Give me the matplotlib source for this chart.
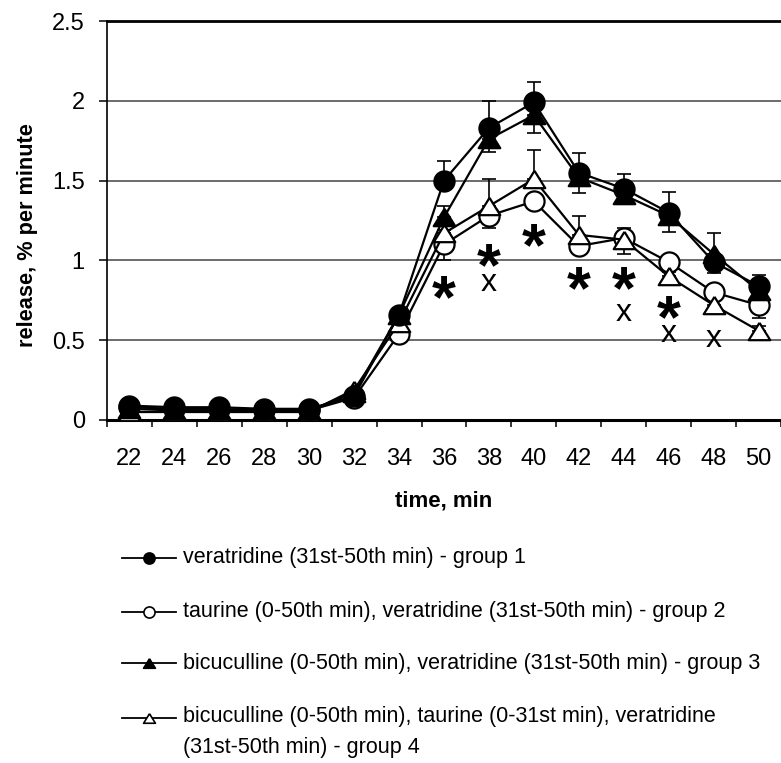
import matplotlib
matplotlib.use('Agg')
import matplotlib.pyplot as plt
from matplotlib.lines import Line2D
import numpy as np

plt.rcParams['font.family'] = ['Liberation Sans', 'DejaVu Sans']

times = [22, 24, 26, 28, 30, 32, 34, 36, 38, 40, 42, 44, 46, 48, 50]

# mean release, % per minute
group1 = [0.09, 0.08, 0.08, 0.07, 0.07, 0.15, 0.66, 1.50, 1.83, 1.99, 1.55, 1.45, 1.30, 0.99, 0.84]
group2 = [0.08, 0.07, 0.07, 0.06, 0.06, 0.14, 0.54, 1.10, 1.28, 1.37, 1.09, 1.14, 0.99, 0.80, 0.72]
group3 = [0.07, 0.06, 0.06, 0.06, 0.06, 0.17, 0.66, 1.27, 1.76, 1.91, 1.52, 1.41, 1.28, 1.04, 0.81]
group4 = [0.05, 0.05, 0.05, 0.05, 0.05, 0.19, 0.61, 1.17, 1.34, 1.51, 1.16, 1.13, 0.90, 0.72, 0.56]

# s.e.m. (group 1 and 4 drawn upward, group 2 and 3 downward)
err1 = [0, 0, 0, 0, 0, 0, 0.03, 0.12, 0.17, 0.13, 0.12, 0.09, 0.13, 0.18, 0.07]
err2 = [0, 0, 0, 0, 0, 0, 0.02, 0.10, 0.08, 0.04, 0.04, 0.10, 0.03, 0.03, 0.08]
err3 = [0, 0, 0, 0, 0, 0, 0.02, 0.08, 0.08, 0.11, 0.10, 0.05, 0.10, 0.12, 0.04]
err4 = [0, 0, 0, 0, 0, 0, 0.02, 0.17, 0.17, 0.18, 0.12, 0.07, 0.03, 0.03, 0.03]

labels = ['veratridine (31st-50th min) - group 1',
          'taurine (0-50th min), veratridine (31st-50th min) - group 2',
          'bicuculline (0-50th min), veratridine (31st-50th min) - group 3',
          'bicuculline (0-50th min), taurine (0-31st min), veratridine\n(31st-50th min) - group 4']

# significance marks: * and x
star_t = [36, 38, 40, 42, 44, 46]
star_y = [0.82, 1.02, 1.15, 0.88, 0.88, 0.70]
cross_t = [38, 44, 46, 48]
cross_y = [0.86, 0.67, 0.54, 0.51]

tri = [(0, 0.5), (-0.62, -0.5), (0.62, -0.5), (0, 0.5)]

W, H = 781, 763
fig = plt.figure(figsize=(W / 100, H / 100), dpi=100)
ax = fig.add_axes([107 / W, 1 - 420 / H, 674 / W, 399 / H])

x = np.arange(len(times))
styles = [
    (group2, err2, 'o', 'white', 'down'),
    (group4, err4, tri, 'white', 'up'),
    (group3, err3, tri, 'black', 'down'),
    (group1, err1, 'o', 'black', 'up'),
]
for vals, err, mk, fc, side in styles:
    vals = np.array(vals)
    err = np.array(err)
    yerr = [err, np.zeros_like(err)] if side == 'down' else [np.zeros_like(err), err]
    ax.errorbar(x, vals, yerr=yerr, fmt='none', ecolor='black', elinewidth=1.2,
                capsize=5, capthick=1.2, zorder=2)
    ax.plot(x, vals, color='black', lw=1.6, marker=mk,
            markersize=15.5 if mk is tri else 14.5,
            markerfacecolor=fc, markeredgecolor='black', markeredgewidth=1.6, zorder=3)

for t, v in zip(star_t, star_y):
    ax.annotate('*', (times.index(t), v), xytext=(0, -20.5), textcoords='offset points',
                ha='center', va='baseline', fontsize=44, fontweight='bold', zorder=4)
for t, v in zip(cross_t, cross_y):
    ax.annotate('x', (times.index(t), v), xytext=(0, -5.8), textcoords='offset points',
                ha='center', va='baseline', fontsize=23, zorder=4)

ax.set_xlim(-0.5, len(times) - 0.5)
ax.set_ylim(0, 2.5)
ax.set_yticks([0, 0.5, 1, 1.5, 2, 2.5])
ax.set_yticklabels(['0', '0.5', '1', '1.5', '2', '2.5'])
ax.set_xticks(x)
ax.set_xticklabels([str(t) for t in times])
ax.set_xticks(np.arange(-0.5, len(times)), minor=True)
ax.tick_params(axis='x', which='major', length=0, pad=20, labelsize=17)
ax.tick_params(axis='x', which='minor', length=5, width=1.1, direction='out')
ax.tick_params(axis='y', length=6, width=1.1, pad=10, labelsize=17)

for yv in [0.5, 1, 1.5, 2]:
    ax.axhline(yv, color='#444444', lw=1.1, zorder=1)

ax.spines['right'].set_visible(False)
ax.spines['top'].set_linewidth(2)
ax.spines['bottom'].set_linewidth(2.2)
ax.spines['left'].set_linewidth(1.2)

ax.set_xlabel('time, min', fontsize=16, fontweight='bold')
ax.xaxis.set_label_coords(0.5, -(501 - 420) / 399)
ax.xaxis.label.set_va('center')
ax.set_ylabel('release, % per minute', fontsize=15.7, fontweight='bold')
ax.yaxis.set_label_coords(-(107 - 28) / 674, (420 - 235) / 399)
ax.yaxis.label.set_va('center')

# legend drawn row by row
rows_y = [558, 612, 663, 718]
leg_marks = [('o', 'black'), ('o', 'white'), (tri, 'black'), (tri, 'white')]
for (mk, fc), ry, lab in zip(leg_marks, rows_y, labels):
    yf = 1 - ry / H
    fig.add_artist(Line2D([122 / W, 176 / W], [yf, yf], transform=fig.transFigure,
                          color='black', lw=1.3))
    fig.add_artist(Line2D([149 / W], [yf], transform=fig.transFigure, marker=mk,
                          markersize=8.5 if mk is tri else 8, markerfacecolor=fc,
                          markeredgecolor='black', markeredgewidth=1.2))
    if '\n' in lab:
        fig.text(183 / W, yf + 12 / H, lab, ha='left', va='top', fontsize=15.5,
                 linespacing=1.6)
    else:
        fig.text(183 / W, yf, lab, ha='left', va='center', fontsize=15.5)

fig.savefig('out.png', dpi=100)
